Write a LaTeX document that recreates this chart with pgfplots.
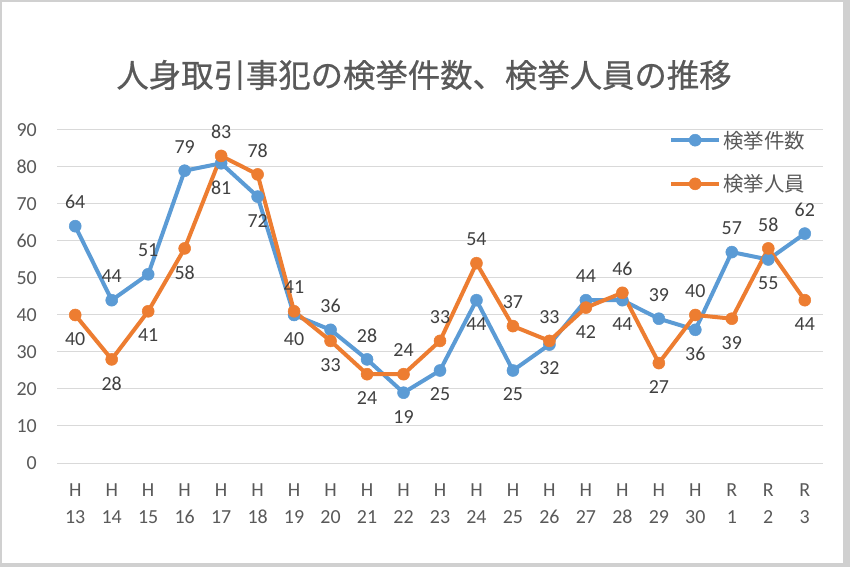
\documentclass[border=0pt]{standalone}
\usepackage{pgfplots}
\pgfplotsset{compat=1.18}
\usepackage{fontspec}
\setmainfont{Carlito}
\newfontfamily\cjk{Noto Sans CJK JP}
\newfontfamily\cjkb[FakeBold=0.6]{Noto Sans CJK JP}
\definecolor{cblue}{HTML}{5B9BD5}
\definecolor{corange}{HTML}{ED7D31}
\definecolor{txt}{HTML}{595959}
\definecolor{lbl}{HTML}{404040}
\definecolor{gridc}{HTML}{D9D9D9}
\definecolor{framec}{HTML}{D0D0D0}
\begin{document}
\begin{tikzpicture}
\useasboundingbox (0,0) rectangle (850bp,567bp);
\fill[framec] (0,0) rectangle (850bp,567bp);
\fill[white] (2bp,4bp) rectangle (843bp,565bp);
\node[font=\cjkb\fontsize{32.5}{36}\selectfont, text=txt] at (424bp,492bp) {人身取引事犯の検挙件数、検挙人員の推移};
\begin{axis}[at={(57bp,104bp)}, anchor=south west, scale only axis,
 width=766bp, height=333bp,
 xmin=-0.5, xmax=20.5, ymin=0, ymax=90,
 ytick={0,10,...,90}, xtick={0,...,20},
 xticklabels={{H\\13},{H\\14},{H\\15},{H\\16},{H\\17},{H\\18},{H\\19},{H\\20},{H\\21},{H\\22},{H\\23},{H\\24},{H\\25},{H\\26},{H\\27},{H\\28},{H\\29},{H\\30},{R\\1},{R\\2},{R\\3}},
 /pgf/number format/assume math mode=true,
 axis line style={draw=none},
 major tick length=0pt,
 ymajorgrids, grid style={gridc, line width=1bp},
 tick label style={font=\fontsize{20}{27}\selectfont, text=txt},
 yticklabel style={anchor=east, inner sep=0pt, xshift=-20bp},
 xticklabel style={anchor=north, inner sep=0pt, yshift=-21bp, align=center},
 legend style={at={(0.795,1.01)}, anchor=north west, draw=none, fill=none,
   font=\cjk\fontsize{20.5}{22}\selectfont, text=txt, row sep=21bp,
   nodes={inner xsep=2bp}},
 legend cell align=left,
 legend image code/.code={\draw[mark repeat=2,mark phase=2,#1] plot coordinates {(0bp,0bp) (24bp,0bp) (48bp,0bp)};},
 lab/.style={draw=none, mark=none, forget plot, nodes near coords,
   every node near coord/.append style={font=\fontsize{20}{22}\selectfont, text=lbl, anchor=center, yshift=#1}},
]
\addplot[cblue, line width=4bp, mark=*, mark size=6bp, mark options={fill=cblue, line width=0.5bp}]
  coordinates {(0,64)(1,44)(2,51)(3,79)(4,81)(5,72)(6,40)(7,36)(8,28)(9,19)(10,25)(11,44)(12,25)(13,32)(14,44)(15,44)(16,39)(17,36)(18,57)(19,55)(20,62)};
\addlegendentry{検挙件数}
\addplot[corange, line width=4bp, mark=*, mark size=6bp, mark options={fill=corange, line width=0.5bp}]
  coordinates {(0,40)(1,28)(2,41)(3,58)(4,83)(5,78)(6,41)(7,33)(8,24)(9,24)(10,33)(11,54)(12,37)(13,33)(14,42)(15,46)(16,27)(17,40)(18,39)(19,58)(20,44)};
\addlegendentry{検挙人員}
% data labels
\addplot[lab=24bp] coordinates {(0,64)(1,44)(2,51)(3,79)(7,36)(8,28)(14,44)(16,39)(18,57)(20,62)};
\addplot[lab=-24bp] coordinates {(4,81)(5,72)(6,40)(9,19)(10,25)(11,44)(12,25)(13,32)(15,44)(17,36)(19,55)};
\addplot[lab=24bp] coordinates {(4,83)(5,78)(6,41)(9,24)(10,33)(11,54)(12,37)(13,33)(15,46)(17,40)(19,58)};
\addplot[lab=-24bp] coordinates {(0,40)(1,28)(2,41)(3,58)(7,33)(8,24)(14,42)(16,27)(18,39)(20,44)};
\end{axis}
\end{tikzpicture}
\end{document}
